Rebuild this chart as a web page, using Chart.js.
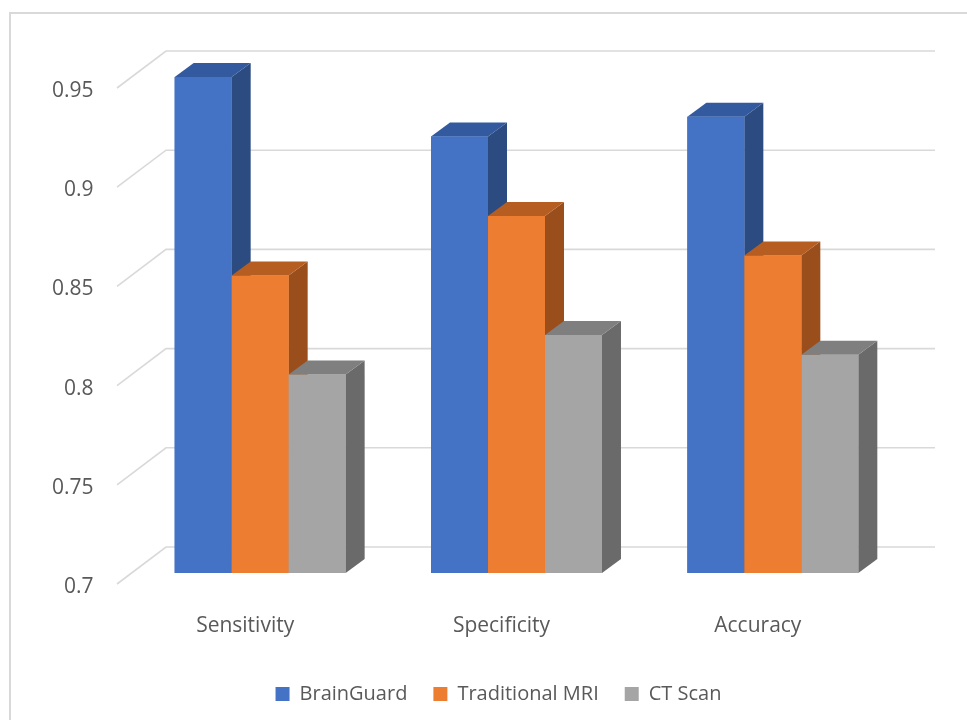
<!DOCTYPE html>
<html>
<head>
<meta charset="utf-8">
<script src="https://cdn.jsdelivr.net/npm/chart.js@4.4.1/dist/chart.umd.min.js"></script>
<style>
  html, body { margin: 0; padding: 0; background: #ffffff; }
  #wrap { width: 967px; height: 720px; }
</style>
</head>
<body>
<div id="wrap"><canvas id="c" width="967" height="720"></canvas></div>
<script>
// ---- data ----
const categories = ['Sensitivity', 'Specificity', 'Accuracy'];
const brainGuard = [0.95, 0.92, 0.93];
const traditionalMRI = [0.85, 0.88, 0.86];
const ctScan = [0.80, 0.82, 0.81];
const seriesNames = ['BrainGuard', 'Traditional MRI', 'CT Scan'];
const yTicks = [0.7, 0.75, 0.8, 0.85, 0.9, 0.95];
const yTickLabels = ['0.7', '0.75', '0.8', '0.85', '0.9', '0.95'];

// ---- styling ----
const frontColors = ['#4472C4', '#ED7D31', '#A5A5A5'];
const topColors = ['#335A9E', '#B65E22', '#7F7F7F'];
const sideColors = ['#2C4B80', '#994E1C', '#6A6A6A'];
const TEXT = '#595959';
const GRID = '#D9D9D9';
// 3D offsets (pixels)
const BAR_DX = 19, BAR_DY = -14;     // bar depth
const BACK_DX = 34, BACK_DY = -26;   // back wall relative to bar plane
const FRONT_DX = -15, FRONT_DY = 11; // front edge relative to bar plane

const threeD = {
  id: 'threeD',
  beforeDraw(chart) {
    const ctx = chart.ctx;
    ctx.save();
    ctx.fillStyle = '#ffffff';
    ctx.fillRect(0, 0, chart.width, chart.height);
    ctx.strokeStyle = GRID;
    ctx.lineWidth = 2;
    ctx.strokeRect(10, 13, chart.width + 20, chart.height + 20);
    ctx.restore();
  },
  beforeDatasetsDraw(chart) {
    const ctx = chart.ctx;
    const ys = chart.scales.y;
    const area = chart.chartArea;
    ctx.save();
    ctx.strokeStyle = GRID;
    ctx.lineWidth = 1.6;
    ys.ticks.forEach(t => {
      const py = ys.getPixelForValue(t.value);
      ctx.beginPath();
      ctx.moveTo(area.left + FRONT_DX, py + FRONT_DY);
      ctx.lineTo(area.left + BACK_DX, py + BACK_DY);
      ctx.lineTo(area.right + BACK_DX, py + BACK_DY);
      ctx.stroke();
    });
    ctx.restore();
  },
  afterDatasetsDraw(chart) {
    const ctx = chart.ctx;
    const area = chart.chartArea;
    ctx.save();
    ctx.beginPath();
    ctx.rect(0, 0, chart.width, area.bottom);
    ctx.clip();
    chart.data.datasets.forEach((ds, i) => {
      const meta = chart.getDatasetMeta(i);
      if (meta.hidden) return;
      meta.data.forEach(bar => {
        const p = bar.getProps(['x', 'y', 'base', 'width'], true);
        const l = p.x - p.width / 2, r = p.x + p.width / 2;
        const top = Math.min(p.y, p.base);
        const bot = Math.min(Math.max(p.y, p.base), area.bottom);
        ctx.fillStyle = sideColors[i];
        ctx.beginPath();
        ctx.moveTo(r, top);
        ctx.lineTo(r + BAR_DX, top + BAR_DY);
        ctx.lineTo(r + BAR_DX, bot + BAR_DY);
        ctx.lineTo(r, bot);
        ctx.closePath();
        ctx.fill();
        ctx.fillStyle = topColors[i];
        ctx.beginPath();
        ctx.moveTo(l, top);
        ctx.lineTo(l + BAR_DX, top + BAR_DY);
        ctx.lineTo(r + BAR_DX, top + BAR_DY);
        ctx.lineTo(r, top);
        ctx.closePath();
        ctx.fill();
        bar.draw(ctx);
      });
    });
    ctx.restore();
  }
};

const seriesValues = [brainGuard, traditionalMRI, ctScan];

new Chart(document.getElementById('c'), {
  type: 'bar',
  data: {
    labels: categories,
    datasets: seriesValues.map((vals, i) => ({
      label: seriesNames[i],
      data: vals,
      backgroundColor: frontColors[i],
      borderWidth: 0,
      categoryPercentage: 0.667,
      barPercentage: 1.0
    }))
  },
  options: {
    responsive: false,
    animation: false,
    devicePixelRatio: 1,
    layout: { padding: { left: 96, right: 66, top: 77, bottom: 6 } },
    plugins: {
      tooltip: { enabled: false },
      legend: {
        position: 'bottom',
        labels: {
          boxWidth: 14,
          boxHeight: 14,
          padding: 26,
          color: TEXT,
          font: { family: 'Open Sans', size: 20 }
        }
      }
    },
    scales: {
      x: {
        offset: true,
        grid: { display: false, drawTicks: false },
        border: { display: false },
        ticks: {
          color: TEXT,
          font: { family: 'Open Sans', size: 21 },
          padding: 40,
          labelOffset: -15,
          maxRotation: 0
        },
        afterFit(scale) { scale.height = 85; }
      },
      y: {
        min: 0.7,
        max: 0.95,
        grid: { display: false, drawTicks: false },
        border: { display: false },
        afterBuildTicks(scale) { scale.ticks = yTicks.map(v => ({ value: v })); },
        ticks: {
          color: TEXT,
          font: { family: 'Open Sans', size: 21 },
          mirror: true,
          crossAlign: 'far',
          padding: -80,
          labelOffset: 14,
          callback: (value, index) => yTickLabels[index]
        },
        afterFit(scale) { scale.width = 36; }
      }
    }
  },
  plugins: [threeD]
});
</script>
</body>
</html>
